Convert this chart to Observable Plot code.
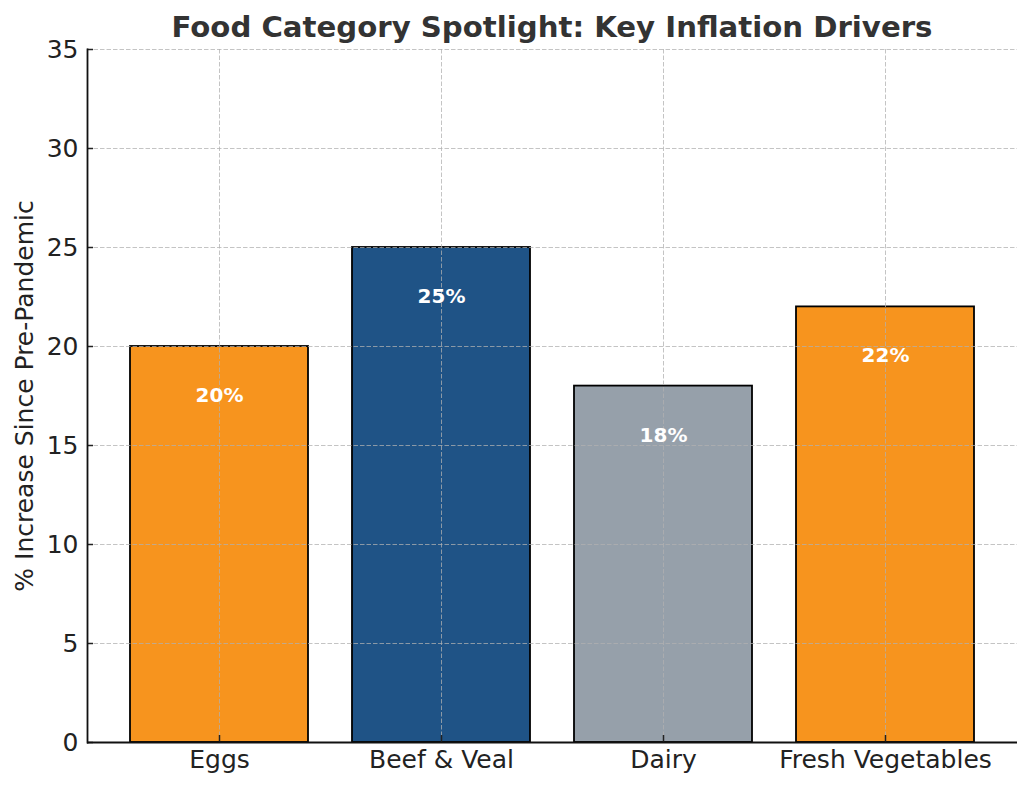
<!DOCTYPE html>
<html>
<head>
<meta charset="utf-8">
<script src="https://cdn.jsdelivr.net/npm/d3@7"></script>
<script src="https://cdn.jsdelivr.net/npm/@observablehq/plot@0.6"></script>
<style>
  html, body { margin: 0; padding: 0; background: #fff; }
  #wrap { position: relative; width: 1031px; height: 788px; font-family: "DejaVu Sans", sans-serif; }
  #title { position: absolute; top: 12.5px; left: 87px; width: 930px; text-align: center;
    font: bold 29.2px/29px "DejaVu Sans", sans-serif; color: #333; white-space: nowrap; }
  #chart { position: absolute; top: 0; left: 0; }
  svg { overflow: visible; }
</style>
</head>
<body>
<div id="wrap">
  <div id="chart"></div>
  <div id="title">Food Category Spotlight: Key Inflation Drivers</div>
</div>
<script>
const categories = ["Eggs", "Beef & Veal", "Dairy", "Fresh Vegetables"];
const values = [20, 25, 18, 22];
const barColors = ["#F7941E", "#1F5386", "#96A0AA", "#F7941E"];
const yTicks = [0, 5, 10, 15, 20, 25, 30, 35];
const yLabel = "% Increase Since Pre-Pandemic";

const data = categories.map((c, i) => ({category: c, value: values[i], color: barColors[i], label: values[i] + "%"}));

const chart = Plot.plot({
  width: 1031,
  height: 788,
  marginTop: 49,
  marginBottom: 46,
  marginLeft: 87,
  marginRight: 14,
  style: {fontFamily: "DejaVu Sans, sans-serif", fontSize: "25px", color: "#222", background: "#fff"},
  x: {domain: categories, paddingInner: 0.2, paddingOuter: 0.19, label: null},
  y: {domain: [0, 35], label: null},
  marks: [
    Plot.barY(data, {x: "category", y: "value", fill: "color", stroke: "#000", strokeWidth: 1.8}),
    Plot.gridY(yTicks, {stroke: "#b0b0b0", strokeOpacity: 0.75, strokeWidth: 1, strokeDasharray: "4.5,2"}),
    Plot.gridX(categories, {stroke: "#b0b0b0", strokeOpacity: 0.75, strokeWidth: 1, strokeDasharray: "4.5,2"}),
    Plot.text(data, {x: "category", y: "value", text: "label", dy: 49, fill: "#fff", fontWeight: "bold", fontSize: 20, lineAnchor: "middle"}),
    Plot.axisY(yTicks, {tickSize: -6, tickPadding: 15, fontSize: 25, fill: "#222", stroke: "#222", strokeWidth: 1.5, label: null}),
    Plot.axisX(categories, {tickSize: -7, tickPadding: 15, fontSize: 25, fill: "#222", stroke: "#222", strokeWidth: 1.5, label: null}),
    Plot.ruleY([0], {stroke: "#111", strokeWidth: 1.8}),
    Plot.frame({anchor: "left", stroke: "#111", strokeWidth: 1.8}),
    Plot.text([yLabel], {frameAnchor: "left", rotate: -90, dx: -62.5, fontSize: 25, fill: "#222", lineAnchor: "middle", textAnchor: "middle"})
  ]
});
document.getElementById("chart").appendChild(chart);
</script>
</body>
</html>
